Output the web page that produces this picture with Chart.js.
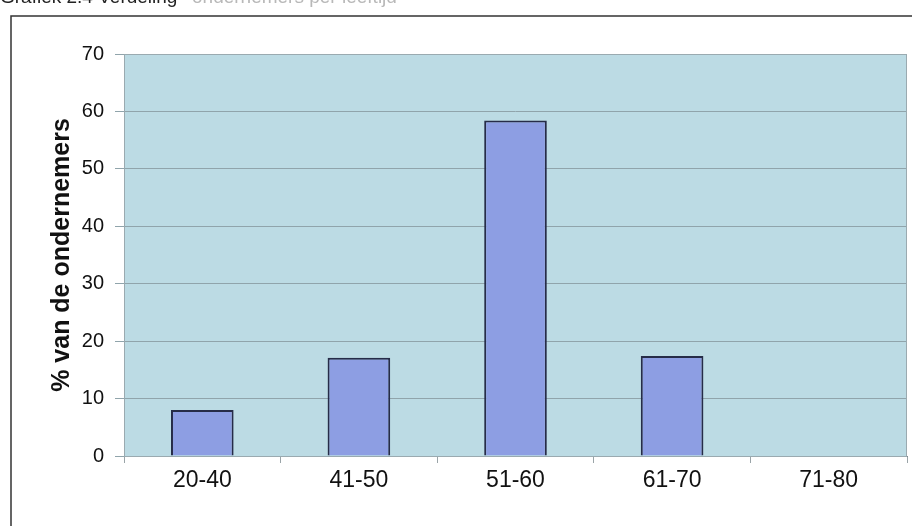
<!DOCTYPE html>
<html>
<head>
<meta charset="utf-8">
<script src="https://cdn.jsdelivr.net/npm/chart.js@4"></script>
<style>
  html, body { margin: 0; padding: 0; background: #ffffff; }
  canvas { display: block; }
</style>
</head>
<body>
<canvas id="ageChart" width="912" height="526"></canvas>
<script>
const categories = ['20-40', '41-50', '51-60', '61-70', '71-80'];
const percentages = [8, 17.1, 58.4, 17.4, 0];
const yTicks = [0, 10, 20, 30, 40, 50, 60, 70];

// plot background, outer frame and clipped caption
const framePlugin = {
    id: 'frame',
    beforeDraw(chart) {
        const c = chart.ctx;
        const a = chart.chartArea;
        c.save();
        c.fillStyle = '#bcdbe4';
        c.fillRect(a.left, a.top, a.right - a.left, a.bottom - a.top);
        c.restore();
    },
    afterDraw(chart) {
        const c = chart.ctx;
        const a = chart.chartArea;
        c.save();
        c.strokeStyle = '#9aaab0';
        c.lineWidth = 1;
        c.strokeRect(a.left + 0.5, a.top + 0.5, a.right - a.left - 1, a.bottom - a.top);
        // outer frame
        c.strokeStyle = '#333333';
        c.lineWidth = 1.5;
        c.beginPath();
        c.moveTo(11, 526);
        c.lineTo(11, 16);
        c.lineTo(912, 16);
        c.stroke();
        // caption, cut off by the top edge
        c.font = '19px "Liberation Sans", Arial, sans-serif';
        c.textBaseline = 'alphabetic';
        c.fillStyle = '#222222';
        c.fillText('Grafiek 2.4 Verdeling', 0, 3);
        c.fillStyle = '#b8b8b8';
        c.fillText('ondernemers per leeftijd', 192, 3);
        c.restore();
    }
};

const ctx = document.getElementById('ageChart').getContext('2d');
new Chart(ctx, {
    type: 'bar',
    data: {
        labels: categories,
        datasets: [{
            data: percentages,
            backgroundColor: '#8d9ee3',
            borderColor: '#262c48',
            borderWidth: 2,
            barPercentage: 0.4,
            categoryPercentage: 1.0
        }]
    },
    options: {
        responsive: false,
        animation: false,
        layout: { padding: { left: 0, top: 54, right: 5, bottom: 0 } },
        plugins: {
            legend: { display: false },
            tooltip: { enabled: false }
        },
        scales: {
            x: {
                afterFit: s => { s.height = 70; },
                grid: {
                    drawOnChartArea: false,
                    offset: true,
                    tickLength: 7,
                    color: '#9aa4a8'
                },
                border: { color: '#7f8a8e', width: 1 },
                ticks: {
                    color: '#111111',
                    padding: 4,
                    font: { family: '"Liberation Sans", Arial, sans-serif', size: 23 }
                }
            },
            y: {
                min: 0,
                max: 70,
                afterFit: s => { s.width = 124; },
                afterBuildTicks: s => { s.ticks = yTicks.map(v => ({ value: v })); },
                grid: {
                    color: '#90a4ab',
                    tickLength: 9,
                    lineWidth: 1
                },
                border: { display: false },
                ticks: {
                    color: '#111111',
                    padding: 11,
                    font: { family: '"Liberation Sans", Arial, sans-serif', size: 20 }
                },
                title: {
                    display: true,
                    text: '% van de ondernemers',
                    color: '#111111',
                    padding: { top: 47, bottom: 0 },
                    font: { family: '"Liberation Sans", Arial, sans-serif', size: 25, weight: 'bold' }
                }
            }
        }
    },
    plugins: [framePlugin]
});
</script>
</body>
</html>
